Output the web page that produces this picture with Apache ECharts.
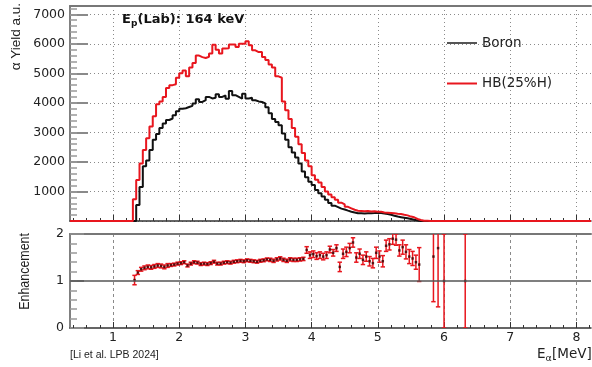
<!DOCTYPE html>
<html><head><meta charset="utf-8">
<script src="https://cdn.jsdelivr.net/npm/echarts@6/dist/echarts.min.js"></script>
<style>html,body{margin:0;padding:0;background:#fff}#c{width:592px;height:367px}</style>
</head><body><div id="c"></div>
<script>
// ---- data ----
const binStart = 1.30;
const binWidth = 0.05;
const boron = [0,540,1150,1850,2050,2400,2750,2950,3150,3300,3420,3470,3580,3720,3800,3820,3860,3900,3980,4120,
  4030,4090,4200,4150,4170,4290,4200,4250,4140,4400,4260,4200,4140,4310,4150,4170,4090,4050,4030,3980,
  3850,3650,3450,3350,3240,2960,2750,2500,2320,2150,1950,1680,1480,1330,1220,1050,940,830,720,610,
  520,470,420,390,350,315,290,265,260,255,260,265,270,280,270,255,236,210,180,150,
  130,110,90,65,40,15,0,0,0,0];
const hb = [740,1385,1950,2400,2800,3200,3550,3950,4050,4200,4500,4600,4630,4850,5000,5100,4900,5200,5350,5600,
  5550,5520,5560,5670,5970,5800,5670,5840,5850,5980,5980,5890,6000,6000,6090,5950,5780,5720,5720,5550,
  5450,5300,5200,4900,4850,4050,3750,3450,3150,2850,2600,2300,2050,1850,1550,1400,1300,1150,1000,900,
  800,720,620,560,480,430,380,350,340,330,340,320,330,315,310,290,280,270,260,245,
  236,210,190,150,125,70,34,10,5,0];
const ratioVals = [1.02,1.18,1.25,1.28,1.30,1.29,1.31,1.33,1.32,1.30,1.33,1.34,1.35,1.37,1.38,1.40,1.33,1.37,1.40,1.39,
  1.36,1.37,1.36,1.38,1.41,1.37,1.37,1.39,1.40,1.39,1.41,1.42,1.43,1.42,1.44,1.43,1.42,1.41,1.43,1.44,
  1.46,1.45,1.43,1.46,1.48,1.45,1.43,1.46,1.45,1.45,1.46,1.47,1.66,1.55,1.57,1.53,1.55,1.52,1.55,1.67,
  1.60,1.70,1.30,1.58,1.62,1.70,1.82,1.50,1.58,1.45,1.52,1.42,1.38,1.60,1.52,1.42,1.75,1.78,1.90,1.88,
  1.65,1.72,1.62,1.52,1.48,1.40,1.35];
const ratioErrs = [0.10,0.04,0.04,0.04,0.04,0.04,0.04,0.04,0.04,0.04,0.04,0.03,0.03,0.03,0.03,0.03,0.03,0.03,0.03,0.03,
  0.03,0.03,0.03,0.03,0.03,0.03,0.03,0.03,0.03,0.03,0.03,0.03,0.03,0.03,0.03,0.03,0.03,0.03,0.03,0.03,
  0.03,0.035,0.035,0.035,0.035,0.035,0.035,0.035,0.035,0.035,0.035,0.035,0.07,0.07,0.07,0.07,0.07,0.07,0.07,0.07,
  0.07,0.07,0.10,0.10,0.10,0.10,0.10,0.10,0.10,0.10,0.10,0.10,0.10,0.12,0.12,0.12,0.12,0.12,0.12,0.12,
  0.12,0.15,0.15,0.15,0.15,0.15,0.36];
const tailX = [5.84, 5.91, 6.00, 6.32];
const tailVals = [1.52, 1.70, 1.00, 1.00];
const tailErrs = [0.96, 1.25, 1.00, 1.00];
const xTicks = [1,2,3,4,5,6,7,8];
const yTicksTop = [1000,2000,3000,4000,5000,6000,7000];
const yTicksBottom = [0,1,2];

const X_MIN = 0.35, X_MAX = 8.22, Y_MAX = 7280;
const RED = '#e8161e';
const FONT = 'DejaVu Sans';

function histData(vals){
  const d = [[X_MIN, 0]];
  vals.forEach((v, i) => d.push([+(binStart + i*binWidth).toFixed(3), v]));
  d.push([+(binStart + vals.length*binWidth).toFixed(3), 0]);
  d.push([X_MAX, 0]);
  return d;
}
const ratioData = ratioVals.map((v, i) => [+(binStart + (i+0.5)*binWidth).toFixed(4), v, ratioErrs[i]]);
tailX.forEach((x, i) => ratioData.push([x, tailVals[i], tailErrs[i]]));

function range(a, b, s){ const r=[]; for(let v=a; v<=b+1e-9; v+=s) r.push(+v.toFixed(4)); return r; }
const xMinor = range(0.4, 8.2, 0.2);
const yMinorTop = range(200, 7200, 200);
const yMinorBottom = range(0.2, 1.8, 0.2);

const chart = echarts.init(document.getElementById('c'), null, {renderer:'canvas'});
const labelStyle = {fontFamily: FONT, fontSize: 12.5, color: '#222', formatter: v => String(v)};

function xAxisSet(gridIndex, showLabels, splitType){
  return [
    {type:'value', gridIndex, min:X_MIN, max:X_MAX, position:'bottom',
      axisLine:{show:true, onZero:false, lineStyle:{color:'#333', width:1.5}},
      axisTick:{show:true, inside:true, length:6, customValues:xTicks, lineStyle:{color:'#333', width:1}},
      axisLabel:{show:showLabels, customValues:xTicks, margin:3, ...labelStyle},
      splitLine:{show:true, lineStyle:{color:'#8a8a8a', width:1, type:splitType}}},
    {type:'value', gridIndex, min:X_MIN, max:X_MAX, position:'bottom',
      axisLine:{show:false}, axisLabel:{show:false}, splitLine:{show:false},
      axisTick:{show:true, inside:true, length:3, customValues:xMinor, lineStyle:{color:'#333', width:1}}},
    {type:'value', gridIndex, min:X_MIN, max:X_MAX, position:'top',
      axisLine:{show:true, onZero:false, lineStyle:{color:'#777', width:2}},
      axisTick:{show:false}, axisLabel:{show:false}, splitLine:{show:false}}
  ];
}

const option = {
  animation: false,
  backgroundColor: '#fff',
  grid: [
    {left:70, top:6, width:521, height:215},
    {left:70, top:234, width:521, height:94}
  ],
  xAxis: [...xAxisSet(0, false, [1,3]), ...xAxisSet(1, true, [3,3])],
  yAxis: [
    {type:'value', gridIndex:0, min:0, max:Y_MAX, position:'left',
      axisLine:{show:true, onZero:false, lineStyle:{color:'#808080', width:2}},
      axisTick:{show:true, inside:true, length:18, customValues:[0, ...yTicksTop], lineStyle:{color:'#8a8a8a', width:2}},
      axisLabel:{show:true, customValues:yTicksTop, margin:5, ...labelStyle},
      splitLine:{show:true, lineStyle:{color:'#8a8a8a', width:1, type:[1,3]}}},
    {type:'value', gridIndex:0, min:0, max:Y_MAX, position:'left', offset:0,
      axisLine:{show:false}, axisLabel:{show:false}, splitLine:{show:false},
      axisTick:{show:true, inside:true, length:7, customValues:yMinorTop, lineStyle:{color:'#999', width:1.5}}},
    {type:'value', gridIndex:1, min:0, max:2, position:'left',
      axisLine:{show:true, onZero:false, lineStyle:{color:'#808080', width:2}},
      axisTick:{show:true, inside:true, length:14, customValues:yTicksBottom, lineStyle:{color:'#8a8a8a', width:2}},
      axisLabel:{show:true, customValues:yTicksBottom, margin:6, ...labelStyle},
      splitLine:{show:false}},
    {type:'value', gridIndex:1, min:0, max:2, position:'left', offset:0,
      axisLine:{show:false}, axisLabel:{show:false}, splitLine:{show:false},
      axisTick:{show:true, inside:true, length:7, customValues:yMinorBottom, lineStyle:{color:'#999', width:1.5}}}
  ],
  legend: [
    {data:[{name:'Boron', itemStyle:{color:'#555'}}], left:447, top:35, padding:0, icon:'rect',
      itemWidth:30, itemHeight:2, selectedMode:false,
      textStyle:{fontFamily:FONT, fontSize:13.5, color:'#222', lineHeight:16}},
    {data:[{name:'HB(25%H)', itemStyle:{color:RED}}], left:447, top:75.5, padding:0, icon:'rect',
      itemWidth:30, itemHeight:2, selectedMode:false,
      textStyle:{fontFamily:FONT, fontSize:13.5, color:'#222', lineHeight:16}}
  ],
  series: [
    {name:'Boron', type:'line', xAxisIndex:0, yAxisIndex:0, step:'end', symbol:'none',
      color:'#111', lineStyle:{color:'#111', width:2}, data:histData(boron), z:2},
    {name:'HB(25%H)', type:'line', xAxisIndex:0, yAxisIndex:0, step:'end', symbol:'none',
      color:RED, lineStyle:{color:RED, width:2}, data:histData(hb), z:3},
    {type:'scatter', xAxisIndex:3, yAxisIndex:2, data:[], z:1, silent:true,
      markLine:{silent:true, symbol:['none','none'], label:{show:false},
        lineStyle:{color:'#555', width:1.5, type:'solid'}, data:[{yAxis:1}]}},
    {type:'custom', xAxisIndex:3, yAxisIndex:2, clip:true, z:3, data:ratioData,
      renderItem(params, api){
        const x = api.value(0), v = api.value(1), e = api.value(2);
        const t = api.coord([x, v+e]), b = api.coord([x, v-e]);
        const cw = 2.2;
        const st = {stroke:RED, lineWidth:1.5};
        return {type:'group', children:[
          {type:'line', shape:{x1:t[0], y1:t[1], x2:b[0], y2:b[1]}, style:st},
          {type:'line', shape:{x1:t[0]-cw, y1:t[1], x2:t[0]+cw, y2:t[1]}, style:st},
          {type:'line', shape:{x1:b[0]-cw, y1:b[1], x2:b[0]+cw, y2:b[1]}, style:st}
        ]};
      }},
    {type:'scatter', xAxisIndex:3, yAxisIndex:2, symbol:'rect', symbolSize:2.5, z:4,
      itemStyle:{color:'#3a0000'}, data:ratioData.map(d => [d[0], d[1]])}
  ],
  graphic: [
    {type:'text', x:122, y:19.5, style:{text:'E', font:'bold 13px "DejaVu Sans"', fill:'#111', verticalAlign:'middle'}},
    {type:'text', x:131, y:23.5, style:{text:'p', font:'bold 9px "DejaVu Sans"', fill:'#111', verticalAlign:'middle'}},
    {type:'text', x:137.5, y:19.5, style:{text:'(Lab): 164 keV', font:'bold 13px "DejaVu Sans"', fill:'#111', verticalAlign:'middle'}},
    {type:'text', x:16, y:3, rotation:Math.PI/2, style:{text:'α Yield a.u.', font:'13.5px "Liberation Sans"', fill:'#222', align:'right', verticalAlign:'middle'}},
    {type:'text', x:24.5, y:233, rotation:Math.PI/2, scaleX:0.83, style:{text:'Enhancement', font:'15px "Liberation Sans"', fill:'#222', align:'right', verticalAlign:'middle'}},
    {type:'text', x:70, y:355.5, style:{text:'[Li et al. LPB 2024]', font:'10.5px "Liberation Sans"', fill:'#222', verticalAlign:'middle'}},
    {type:'text', x:537, y:354.5, style:{text:'E', font:'13.5px "DejaVu Sans"', fill:'#222', verticalAlign:'middle'}},
    {type:'text', x:545.5, y:358.5, style:{text:'α', font:'9.5px "DejaVu Sans"', fill:'#222', verticalAlign:'middle'}},
    {type:'text', x:552, y:354.5, style:{text:'[MeV]', font:'13.5px "DejaVu Sans"', fill:'#222', verticalAlign:'middle'}}
  ]
};
chart.setOption(option);
</script>
</body></html>
